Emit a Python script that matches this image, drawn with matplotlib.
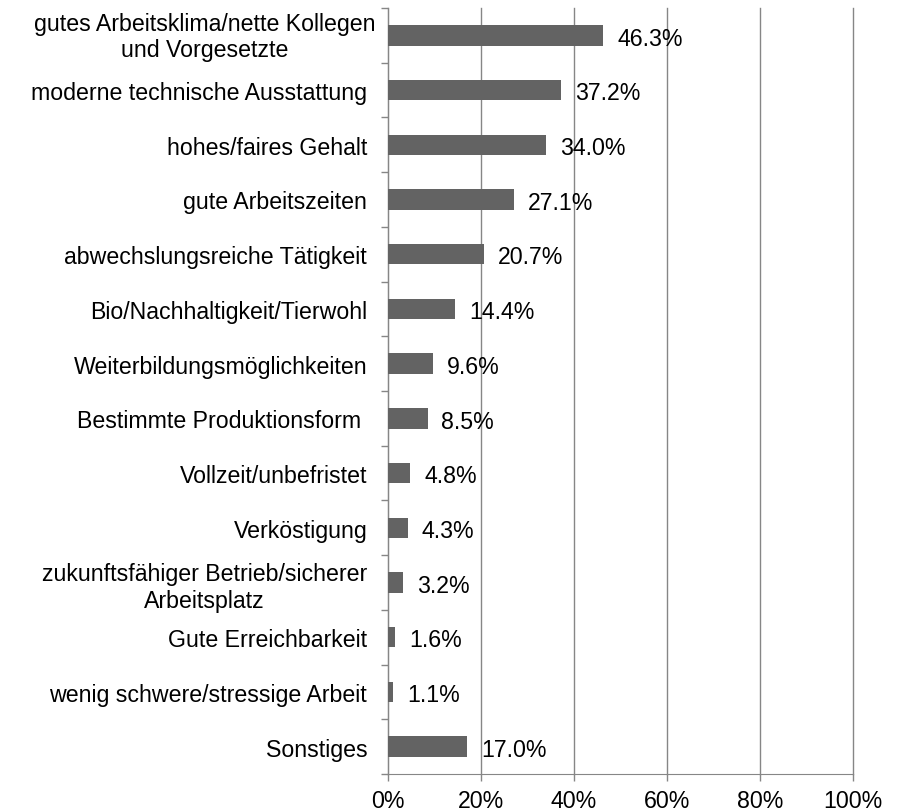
import matplotlib.pyplot as plt
import matplotlib.transforms as mtransforms
import numpy as np

categories = [
    "gutes Arbeitsklima/nette Kollegen\nund Vorgesetzte",
    "moderne technische Ausstattung",
    "hohes/faires Gehalt",
    "gute Arbeitszeiten",
    "abwechslungsreiche Tätigkeit",
    "Bio/Nachhaltigkeit/Tierwohl",
    "Weiterbildungsmöglichkeiten",
    "Bestimmte Produktionsform ",
    "Vollzeit/unbefristet",
    "Verköstigung",
    "zukunftsfähiger Betrieb/sicherer\nArbeitsplatz",
    "Gute Erreichbarkeit",
    "wenig schwere/stressige Arbeit",
    "Sonstiges",
]
values = [46.3, 37.2, 34.0, 27.1, 20.7, 14.4, 9.6, 8.5, 4.8, 4.3, 3.2, 1.6, 1.1, 17.0]
xticks = [0, 20, 40, 60, 80, 100]


def draw():
    plt.rcParams.update({'font.size': 16.7, 'font.family': ['Liberation Sans', 'DejaVu Sans']})
    fig = plt.figure(figsize=(9.06, 8.12), dpi=100)
    ax = fig.add_axes([388 / 906, 37 / 812, 465 / 906, 766 / 812])

    y = np.arange(len(categories))
    ax.barh(y, values, height=0.375, color='#636363', zorder=3)
    for yi, v in zip(y, values):
        ax.text(v + 3.0, yi + 0.05, "%.1f%%" % v, va='center', ha='left', zorder=4)

    ax.set_ylim(len(categories) - 0.5, -0.5)
    ax.set_xlim(0, 100)
    ax.set_xticks(xticks)
    ax.set_xticklabels(["%d%%" % t for t in xticks])
    ax.set_yticks(y)
    labels = ax.set_yticklabels(categories, multialignment='center')
    ax.set_yticks(np.arange(-0.5, len(categories), 1), minor=True)
    ax.tick_params(axis='y', which='major', length=0, pad=15)
    ax.tick_params(axis='y', which='minor', length=5, color='#868686', width=1)
    ax.tick_params(axis='x', length=5, color='#868686', width=1, pad=6)

    # first label overflows its box to the right in the original
    shift = mtransforms.ScaledTranslation(8 / 100, 3 / 100, fig.dpi_scale_trans)
    labels[0].set_transform(labels[0].get_transform() + shift)

    ax.xaxis.grid(True, color='#868686', linewidth=1, zorder=0)
    for gl in ax.get_xgridlines():
        gl.set_clip_on(False)
    for s in ['top', 'right']:
        ax.spines[s].set_visible(False)
    for s in ['left', 'bottom']:
        ax.spines[s].set_color('#868686')
    plt.savefig('out.png')


if __name__ == '__main__':
    draw()
